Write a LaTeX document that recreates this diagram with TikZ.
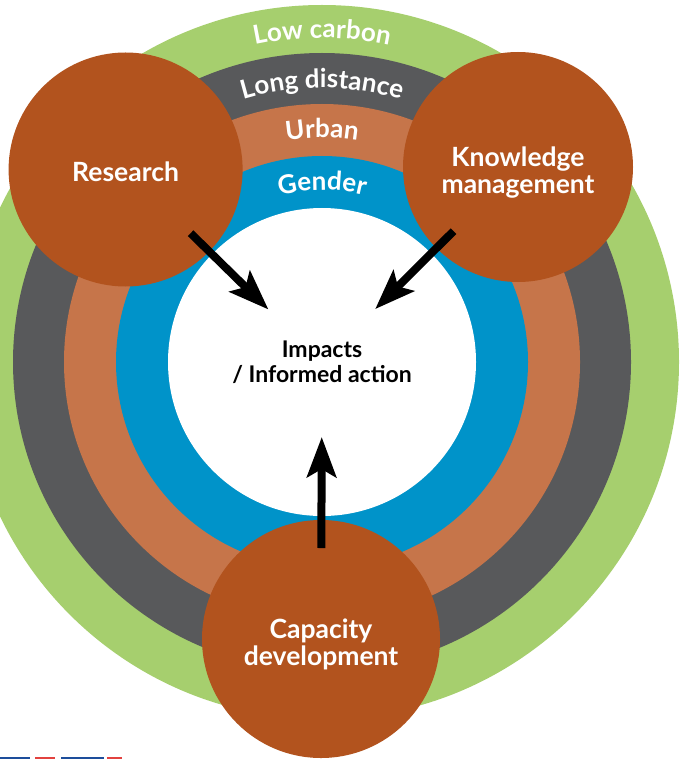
\documentclass[tikz,border=0pt]{standalone}
\usepackage{fontspec}
\setmainfont{Lato}
\usepackage{tikz}
\usetikzlibrary{arrows.meta,decorations.text}
\definecolor{lowcarbon}{HTML}{A6CF6E}
\definecolor{longdist}{HTML}{58595B}
\definecolor{urban}{HTML}{C6754A}
\definecolor{gender}{HTML}{0093C9}
\definecolor{topicbrown}{HTML}{B2531E}
\definecolor{stripblue}{HTML}{1D4E9B}
\definecolor{stripred}{HTML}{E2423F}
\newcommand{\ringfont}{\bfseries\fontsize{26}{26}\selectfont}
\tikzset{
  topic/.style={circle,fill=topicbrown,inner sep=0pt},
  topictext/.style={text=white,align=center,font=\bfseries\fontsize{26.5}{27}\selectfont},
  toimpact/.style={-{Stealth[length=40pt,width=29pt,inset=8pt]},line width=8pt,shorten <=91pt,shorten >=75pt},
  ringtext/.style={decorate,decoration={text along path,text align=center,text color=white,text={|\ringfont|#1}}}
}

\begin{document}
\begin{tikzpicture}[x=1pt,y=1pt]
    \useasboundingbox (0,0) rectangle (679,-759);
    \fill[white] (0,0) rectangle (679,-759);
    \clip (0,0) rectangle (679,-759);
    \coordinate (c) at (322,-362);
    \fill[lowcarbon] (c) circle[radius=357];
    \fill[longdist] (c) circle[radius=309];
    \fill[urban] (c) circle[radius=258];
    \fill[gender] (c) circle[radius=206];
    \node[circle,fill=white,minimum size=308pt,inner sep=0pt,align=center,font=\bfseries\fontsize{23}{24.5}\selectfont] (impact) at (c) {Impacts\\/ Informed action};
    \path[ringtext=Low carbon] (c) ++(160:324) arc[start angle=160,end angle=20,radius=324];
    \path[ringtext=Long distance] (c) ++(160:274) arc[start angle=160,end angle=20,radius=274];
    \path[ringtext=Urban] (c) ++(160:224) arc[start angle=160,end angle=20,radius=224];
    \path[ringtext=Gender] (c) ++(160:172) arc[start angle=160,end angle=20,radius=172];
    \node[topic,minimum size=234pt] (research) at (125.6,-169.5) {};
    \node[topic,minimum size=230pt] (knowledge) at (518,-167) {};
    \node[topic,minimum size=238pt] (capacity) at (321,-639) {};
    \node[topictext] (researchtext) at ([yshift=-2.5pt]research.center) {Research};
    \node[topictext] (knowledgetext) at ([yshift=-6pt]knowledge.center) {Knowledge\\management};
    \node[topictext] (capacitytext) at ([yshift=-5pt]capacity.center) {Capacity\\development};
    \draw[toimpact] (research.center) -- (impact.center);
    \draw[toimpact] (knowledge.center) -- (impact.center);
    \draw[toimpact] (capacity.center) -- (impact.center);
    \fill[stripblue] (0,-757) rectangle (30,-759);
    \fill[stripred] (35,-757) rectangle (55,-759);
    \fill[stripblue] (61,-757) rectangle (104,-759);
    \fill[stripred] (107,-757) rectangle (122,-759);
\end{tikzpicture}
\end{document}
